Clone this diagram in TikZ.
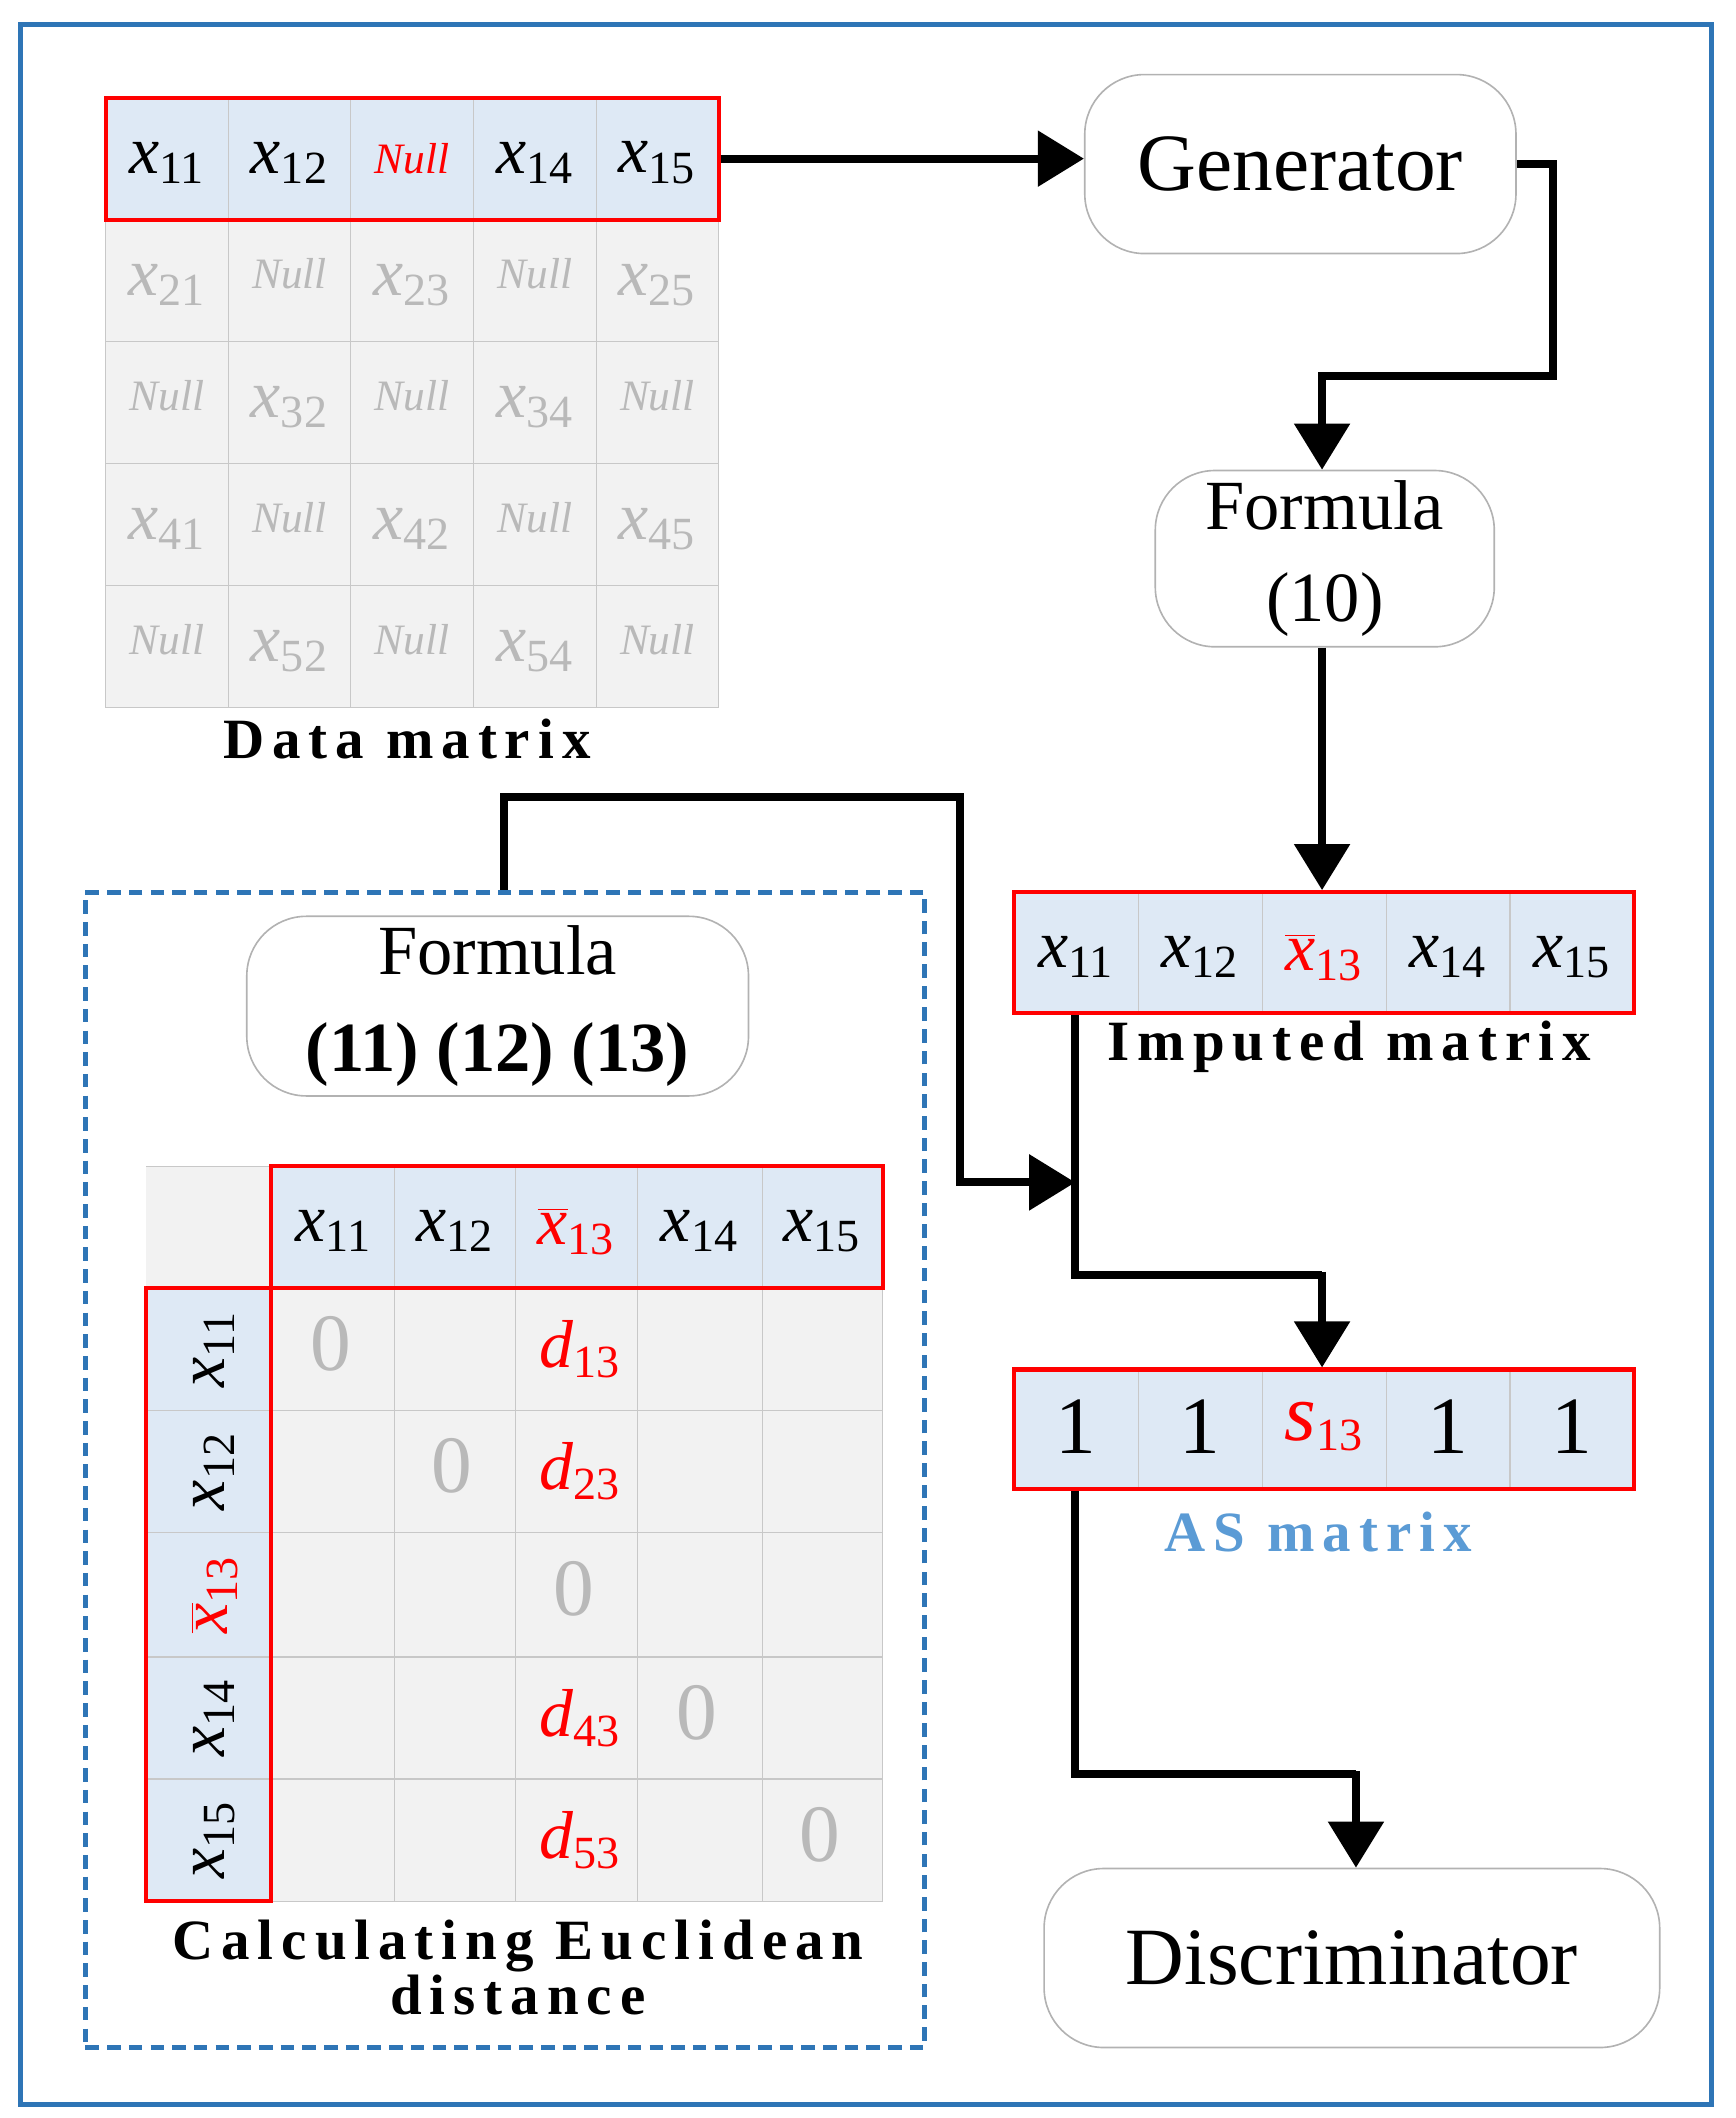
\documentclass[tikz,border=0pt]{standalone}
\usepackage{fontspec}
\setmainfont{Liberation Serif}
\newfontfamily\spaced{Liberation Serif}[LetterSpace=14]
\usetikzlibrary{calc,arrows.meta}
\definecolor{cellblue}{RGB}{222,233,245}
\definecolor{cellgray}{RGB}{242,242,242}
\definecolor{gline}{RGB}{200,200,200}
\definecolor{frameblue}{RGB}{46,117,182}
\definecolor{lblue}{RGB}{91,155,213}
\definecolor{gtext}{RGB}{185,185,185}
\newcommand{\xv}[1]{{\itshape x}\textsubscript{\fontsize{17}{17}\selectfont #1}}
\newcommand{\xb}[1]{$\overline{\mbox{\itshape x}}$\textsubscript{\fontsize{17}{17}\selectfont #1}}
\newcommand{\dv}[1]{{\itshape d}\textsubscript{\fontsize{17}{17}\selectfont #1}}
\begin{document}
\begin{tikzpicture}[x=0.5pt,y=-0.5pt,
  cell/.style={font=\fontsize{25}{25}\selectfont},
  nul/.style={font=\fontsize{16}{16}\selectfont\itshape},
  box/.style={draw=gray!60,rounded corners=22pt,line width=0.6pt,align=center,font=\fontsize{30}{34}\selectfont},
  lbl/.style={font=\fontsize{21}{21}\selectfont\bfseries\spaced},
  conn/.style={line width=3pt,-{Triangle[length=17pt,width=20pt]}},
  line/.style={line width=3pt},
  tbl/.style={draw=red,line width=1.5pt,inner sep=0pt}]
\useasboundingbox (0,0) rectangle (1280,1562);
\draw[frameblue,line width=2pt] (15,18) rectangle (1262,1552);
% Data matrix
\fill[cellgray] (78,162) rectangle (530,522);
\fill[cellblue] (78,72) rectangle (530,162);
\foreach \i in {1,...,4}{\draw[gline] ({78+\i*90.4},72) -- ({78+\i*90.4},522);}
\foreach \j in {2,...,5}{\draw[gline] (78,{72+\j*90}) -- (530,{72+\j*90});}
\draw[gline] (78,162) rectangle (530,522);
\node[tbl,minimum width=226pt,minimum height=45pt] (dm) at (304,117) {};
\foreach \t [count=\i] in {\xv{11},\xv{12},,\xv{14},\xv{15}}{\node[cell] at ({78+(\i-0.5)*90.4},120) {\t};}
\node[nul,red] at ({78+2.5*90.4},117) {Null};
\foreach \r/\row in {2/{1,0,1,0,1},3/{0,1,0,1,0},4/{1,0,1,0,1},5/{0,1,0,1,0}}{
  \foreach \v [count=\c] in \row {
    \pgfmathsetmacro\cx{78+(\c-0.5)*90.4}
    \pgfmathsetmacro\cy{72+(\r-0.5)*90}
    \ifnum\v=1
      \ifnum\r\c=43 \node[cell,gtext] at (\cx,\cy+3) {\xv{42}};
      \else \node[cell,gtext] at (\cx,\cy+3) {\xv{\r\c}}; \fi
    \else \node[nul,gtext] at (\cx,\cy-5) {Null}; \fi
  }}
\node[lbl] (dml) at (300,545) {Data matrix};
% Generator etc
\node[box,minimum width=159pt,minimum height=66pt] (gen) at (959,121) {Generator};
\node[box,minimum width=125pt,minimum height=65pt,font=\fontsize{26}{34}\selectfont] (f10) at (977,412) {Formula\\(10)};
\draw[conn] (dm.east) -- (dm.east -| gen.west);
\draw[conn] (gen.east) -- ++(27,0) |- (975,277) -- (f10.north -| 975,0);
% Imputed matrix
\fill[cellblue] (748,658) rectangle (1205,747);
\foreach \i in {1,...,4}{\draw[gline] ({748+\i*91.4},658) -- ({748+\i*91.4},747);}
\node[tbl,minimum width=228.5pt,minimum height=44.5pt] (imp) at (976.5,702.5) {};
\foreach \t [count=\i] in {\xv{11},\xv{12},{\color{red}\xb{13}},\xv{14},\xv{15}}{\node[cell] at ({748+(\i-0.5)*91.4},706) {\t};}
\node[lbl] at (995,772) {Imputed matrix};
\draw[conn] (f10.south -| 975,0) -- (imp.north -| 975,0);
% AS matrix
\fill[cellblue] (748,1010) rectangle (1205,1098);
\foreach \i in {1,...,4}{\draw[gline] ({748+\i*91.4},1010) -- ({748+\i*91.4},1098);}
\node[tbl,minimum width=228.5pt,minimum height=44pt] (as) at (976.5,1054) {};
\foreach \t [count=\i] in {1,1,{\color{red}{\itshape s}\textsubscript{\fontsize{17}{17}\selectfont 13}},1,1}{\node[cell,font=\fontsize{30}{30}\selectfont] at ({748+(\i-0.5)*91.4},1052) {\t};}
\node[lbl,lblue] at (972,1130) {AS matrix};
\coordinate (j) at (793,872);
\draw[line] (imp.south -| 793,0) -- (793,940) -| (975,940);
\draw[conn] (975,938) -- (as.north -| 975,0);
% Discriminator
\node[box,minimum width=227pt,minimum height=66pt] (dis) at (997,1444) {Discriminator};
\draw[line] (as.south -| 793,0) |- (1000,1308);
\draw[conn] (1000,1306) -- (dis.north -| 1000,0);
% Dashed box
\node[draw=frameblue,dash pattern=on 5pt off 3pt,line width=2pt,minimum width=309.5pt,minimum height=426pt,inner sep=0pt] (eu) at (372.5,1084) {};
\node[box,minimum width=185pt,minimum height=66pt,font=\fontsize{26}{36}\selectfont] (f11) at (367,742) {Formula\\\textbf{(11) (12) (13)}};
\draw[conn] (eu.north -| 372,0) |- (708,588) |- (j);
% Euclidean matrix
\fill[cellgray] (108,860) rectangle (651,1402);
\fill[cellblue] (200,860) rectangle (651,950);
\fill[cellblue] (108,950) rectangle (200,1402);
\foreach \x in {291,380,470,562}{\draw[gline] (\x,860) -- (\x,1402);}
\foreach \y in {1040,1130,1222,1312}{\draw[gline] (108,\y) -- (651,\y);}
\draw[gline] (200,950) -- (200,1402);
\draw[gline] (108,860) -- (200,860) -- (200,950);
\draw[gline] (651,950) -- (651,1402) -- (108,1402);
\node[tbl,minimum width=225.5pt,minimum height=45pt] (hdr) at (425.5,905) {};
\node[tbl,minimum width=46pt,minimum height=226pt] (lc) at (154,1176) {};
\foreach \t/\cx/\cy in {\xv{11}/246/995,\xv{12}/335.5/1085,{\color{red}\xb{13}}/425/1176,\xv{14}/516/1267,\xv{15}/606.5/1357}{
  \node[cell] at (\cx,908) {\t};
  \node[cell,rotate=90] at (158,\cy) {\t};
  \node[cell,gtext,font=\fontsize{30}{30}\selectfont] at (\cx-2,\cy-4) {0};}
\foreach \cy/\t in {995/13,1085/23,1267/43,1357/53}{
  \node[cell,red] at (428,\cy) {\dv{\t}};}
\node[lbl,align=center,font=\fontsize{21}{19}\selectfont\bfseries\spaced] at (382,1451) {Calculating Euclidean\\distance};
\end{tikzpicture}
\end{document}
